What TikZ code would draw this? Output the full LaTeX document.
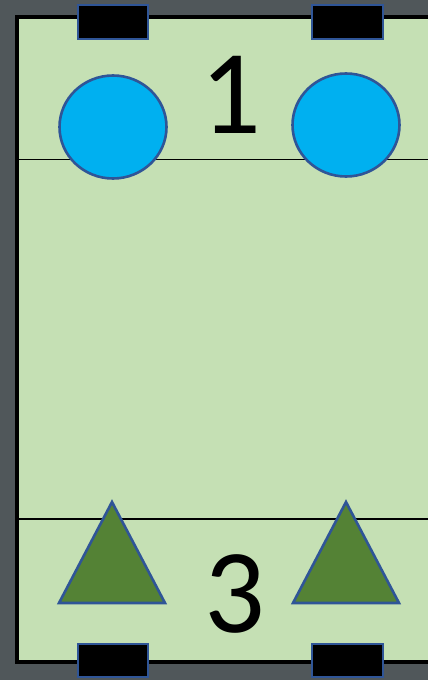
\documentclass[tikz,border=0pt]{standalone}
\usepackage{fontspec}
\setmainfont{Carlito}
\usetikzlibrary{shapes.geometric}
\definecolor{board}{HTML}{50575A}
\definecolor{pitch}{HTML}{C5E0B4}
\definecolor{edgeblue}{HTML}{2F5597}
\definecolor{ballblue}{HTML}{00B0F0}
\definecolor{trigreen}{HTML}{548235}
\tikzset{
  goalbox/.style={draw=edgeblue, line width=2.2pt, fill=black},
  player/.style={ellipse, draw=edgeblue, line width=2.6pt, fill=ballblue, minimum width=107pt, minimum height=103pt, inner sep=0pt},
  cone/.style={draw=edgeblue, line width=2.6pt, fill=trigreen, line join=miter},
  zone/.style={font=\fontsize{120}{120}\selectfont, anchor=base, inner sep=0pt},
  divider/.style={draw=black, line width=1.1pt},
}
\begin{document}
\begin{tikzpicture}[x=1pt,y=-1pt]
\useasboundingbox (0,0) rectangle (428,680);
\clip (0,0) rectangle (428,680);
\fill[board] (0,0) rectangle (428,680);
% pitch
\draw[fill=pitch, draw=black, line width=4pt] (17,17) rectangle (450,662);
% dividing lines
\coordinate (l1a) at (19,159.5);
\coordinate (l1b) at (428,159.5);
\coordinate (l2a) at (19,519);
\coordinate (l2b) at (428,519);
\draw[divider] (l1a) -- (l1b);
\draw[divider] (l2a) -- (l2b);
% goals
\draw[goalbox] (78,5) rectangle (148,39);
\draw[goalbox] (312,5) rectangle (383,39);
\draw[goalbox] (78,644) rectangle (148,677);
\draw[goalbox] (312,644) rectangle (383,677);
% players
\node[player] (p1) at (113,127) {};
\node[player] (p2) at (346,125) {};
% cones
\draw[cone] (112,502) -- (165,603) -- (59,603) -- cycle;
\draw[cone] (346,502) -- (399,603) -- (293,603) -- cycle;
% zone numbers
\node[zone] (z1) at (231,133) {1};
\node[zone] (z3) at (235,632) {3};
\end{tikzpicture}
\end{document}
